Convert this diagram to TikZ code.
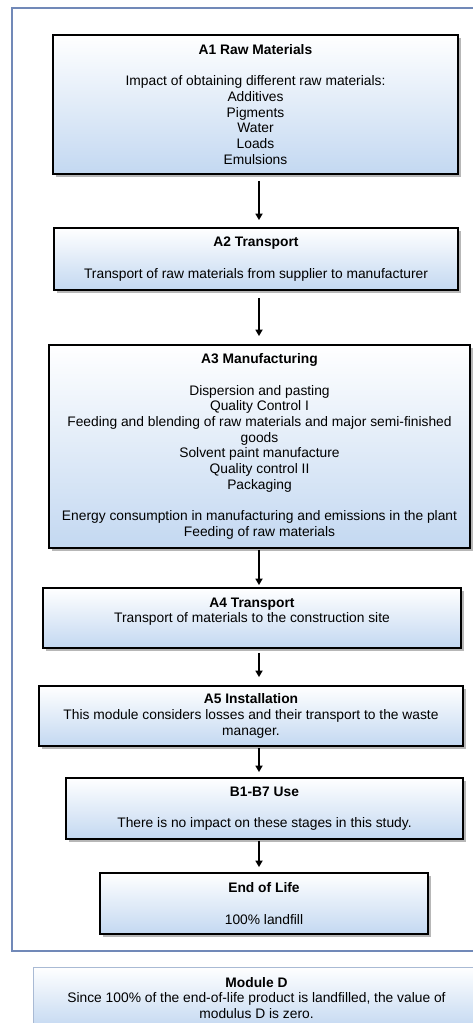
\documentclass[tikz,border=0pt]{standalone}
\usepackage{fontspec}
\setmainfont{Liberation Sans}
\usetikzlibrary{arrows.meta,shadows}
\definecolor{boxblue}{HTML}{C3D8F1}
\definecolor{frameblue}{HTML}{7189B8}
\definecolor{modborder}{HTML}{A9BAD4}
\tikzset{
  stagebox/.style={draw=black, line width=1.8pt, top color=white, bottom color=boxblue,
    inner sep=0pt, align=center, font=\fontsize{13.8}{15.7}\selectfont,
    drop shadow={shadow xshift=2.5pt, shadow yshift=-2.5pt, fill=black!35, opacity=0.8}},
  modbox/.style={draw=modborder, line width=0.9pt, top color=white, bottom color=boxblue,
    inner sep=0pt, align=center, font=\fontsize{13.8}{15.7}\selectfont},
  flow/.style={line width=2.1pt, -{Triangle[length=6.5pt,width=7pt]}},
  frame/.style={draw=frameblue, line width=1.4pt}
}
\begin{document}
\begin{tikzpicture}[x=1pt,y=-1pt]
\useasboundingbox (0,0) rectangle (473,1023);
\clip (0,0) rectangle (473,1023);
\fill[white] (0,0) rectangle (473,1023);
\draw[frame] (12,8) rectangle (490,951);
\coordinate (axis) at (259,0);

\node[stagebox, minimum width=405pt, minimum height=139pt] (A1) at (255.5,104.5)
  {\textbf{A1 Raw Materials}\\[15.7pt]
   Impact of obtaining different raw materials:\\ Additives\\ Pigments\\ Water\\ Loads\\ Emulsions};
\node[stagebox, minimum width=404pt, minimum height=62pt] (A2) at (256,259)
  {\textbf{A2 Transport}\\[15.7pt] Transport of raw materials from supplier to manufacturer};
\node[stagebox, minimum width=421pt, minimum height=203pt] (A3) at (259.5,446.5)
  {\textbf{A3 Manufacturing}\\[15.7pt]
   Dispersion and pasting\\ Quality Control I\\
   Feeding and blending of raw materials and major semi-finished\\ goods\\
   Solvent paint manufacture\\ Quality control II\\ Packaging\\[15.7pt]
   Energy consumption in manufacturing and emissions in the plant\\ Feeding of raw materials};
\node[stagebox, minimum width=418pt, minimum height=60pt] (A4) at (252,618)
  {\textbf{A4 Transport}\\ Transport of materials to the construction site\\ \mbox{}};
\node[stagebox, minimum width=424pt, minimum height=60pt] (A5) at (251,716)
  {\textbf{A5 Installation}\\ This module considers losses and their transport to the waste\\ manager.};
\node[stagebox, minimum width=397pt, minimum height=61pt] (B) at (264.5,808.5)
  {\textbf{B1-B7 Use}\\[15.7pt] There is no impact on these stages in this study.};
\node[stagebox, minimum width=328pt, minimum height=61pt] (EoL) at (264,903.5)
  {\textbf{End of Life}\\[15.7pt] 100\% landfill};
\node[modbox, minimum width=447pt, minimum height=62pt] (D) at (256.5,998)
  {\textbf{Module D}\\ Since 100\% of the end-of-life product is landfilled, the value of\\ modulus D is zero.};

\draw[flow, shorten <=6pt, shorten >=7pt] (A1.south -| axis) -- (A2.north -| axis);
\draw[flow, shorten <=7pt, shorten >=8pt] (A2.south -| axis) -- (A3.north -| axis);
\draw[flow, shorten <=1pt, shorten >=2pt] (A3.south -| axis) -- (A4.north -| axis);
\draw[flow, shorten <=4pt, shorten >=8pt] (A4.south -| axis) -- (A5.north -| axis);
\draw[flow, shorten <=1pt, shorten >=5pt] (A5.south -| axis) -- (B.north -| axis);
\draw[flow, shorten <=1pt, shorten >=5pt] (B.south -| axis) -- (EoL.north -| axis);
\end{tikzpicture}
\end{document}
